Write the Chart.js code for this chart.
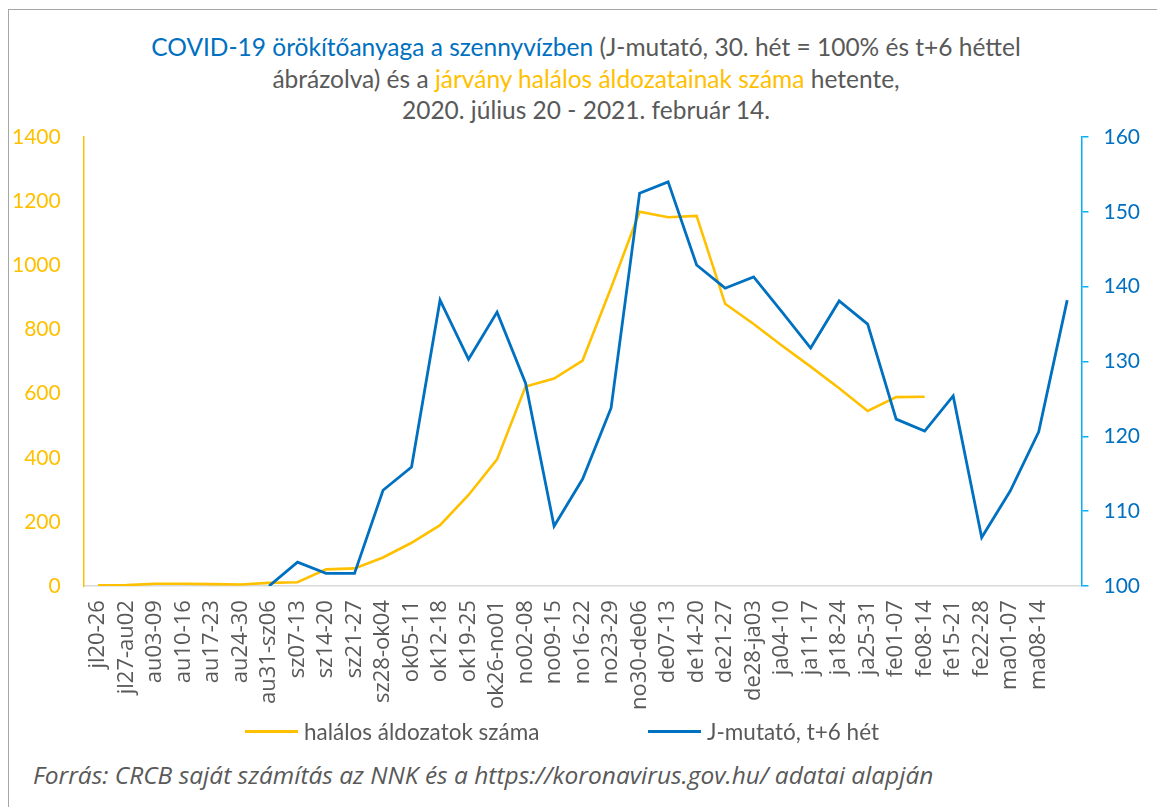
<!DOCTYPE html>
<html>
<head>
<meta charset="utf-8">
<script src="https://cdn.jsdelivr.net/npm/chart.js@4/dist/chart.umd.min.js"></script>
<style>
body{margin:0;background:#fff;width:1157px;height:807px;overflow:hidden;position:relative;font-family:Lato,sans-serif}
#frame{position:absolute;left:8px;top:9px;width:1300px;height:900px;border:1.5px solid #a6a6a6}
#cim{position:absolute;left:0;width:1172px;top:31px;text-align:center;font-size:24.5px;line-height:31.5px;color:#595959}
#wrap{position:absolute;left:-11px;top:0;width:1168px;height:734px}
#jelmagyarazat{position:absolute;top:718px;left:0;width:1157px;font-size:22.5px;color:#595959}
.jel{position:absolute;display:flex;align-items:center}
.vonal{display:inline-block;width:53px;height:3px;margin-right:6px}
#forras{position:absolute;left:33px;top:758px;font-family:"Open Sans",sans-serif;font-style:italic;font-size:24.5px;color:#595959}
</style>
</head>
<body>
<div id="frame"></div>
<div id="cim">
<span style="color:#0070C0">COVID-19 örökítőanyaga a szennyvízben</span> (J-mutató, 30. hét = 100% és t+6 héttel<br>
ábrázolva) és a <span style="color:#FFC000">járvány halálos áldozatainak száma</span> hetente,<br>
2020. július 20 - 2021. február 14.
</div>
<div id="wrap"><canvas id="grafikon"></canvas></div>
<div id="jelmagyarazat"></div>
<div id="forras">Forrás: CRCB saját számítás az NNK és a https://koronavirus.gov.hu/ adatai alapján</div>
<script>
// hetek (az utolsó hét felirat nélkül)
const hetek = ["jl20-26","jl27-au02","au03-09","au10-16","au17-23","au24-30","au31-sz06","sz07-13","sz14-20","sz21-27","sz28-ok04","ok05-11","ok12-18","ok19-25","ok26-no01","no02-08","no09-15","no16-22","no23-29","no30-de06","de07-13","de14-20","de21-27","de28-ja03","ja04-10","ja11-17","ja18-24","ja25-31","fe01-07","fe08-14","fe15-21","fe22-28","ma01-07","ma08-14",""]

const halottak = [2,3,7,7,6,5,10,12,52,55,89,135,190,284,395,622,647,703,930,1167,1150,1154,880,817,749,684,617,546,589,590,null,null,null,null,null]

const jMutato = [null,null,null,null,null,null,100,103.2,101.7,101.7,112.8,115.9,138.2,130.3,136.6,127.1,108.0,114.3,123.8,152.5,154.0,142.9,139.8,141.3,136.6,131.8,138.1,135.0,122.3,120.7,125.4,106.5,112.7,120.6,138.2]

const sarga = "#FFC000"
const kek = "#0070C0"

let chart = new Chart(document.getElementById("grafikon"),{
type:'line',
data:{
labels:hetek,
datasets:[
{
label:'halálos áldozatok száma',
data:halottak,
borderColor:sarga,
backgroundColor:sarga,
borderWidth:2.6,
pointRadius:0,
tension:0,
yAxisID:'y',
order:1
},
{
label:'J-mutató, t+6 hét',
data:jMutato,
borderColor:kek,
backgroundColor:kek,
borderWidth:2.8,
pointRadius:0,
tension:0,
yAxisID:'y2',
order:0
}
]
},
options:{
responsive:true,
maintainAspectRatio:false,
animation:false,
layout:{padding:{left:0,right:2,top:137,bottom:10}},
plugins:{
legend:{display:false},
tooltip:{enabled:false}
},
scales:{
x:{
offset:true,
grid:{display:false,drawTicks:false},
border:{display:true,color:'#d9d9d9',width:1.5},
ticks:{
autoSkip:false,
maxRotation:90,
minRotation:90,
padding:14,
color:'#595959',
font:{family:'"Open Sans"',size:22}
}
},
y:{
position:'left',
min:0,
max:1400,
grid:{display:false,drawTicks:false},
border:{display:true,color:sarga,width:1.5},
ticks:{
stepSize:200,
padding:23,
color:sarga,
font:{family:'Lato',size:21},
callback:(v)=>String(v)
}
},
y2:{
position:'right',
min:100,
max:160,
grid:{display:true,drawOnChartArea:false,drawTicks:true,tickLength:7,color:'#00B0F0',lineWidth:1.5},
border:{display:true,color:'#00B0F0',width:1.5},
ticks:{
stepSize:10,
padding:15,
color:kek,
font:{family:'Lato',size:21}
}
}
}
}
})

// jelmagyarázat
let jm = document.getElementById("jelmagyarazat")
let helyek = [245,648]
chart.data.datasets.forEach((ds,i)=>{
let d = document.createElement("div")
d.className = "jel"
d.style.left = helyek[i]+"px"
d.innerHTML = '<span class="vonal" style="background:'+ds.borderColor+'"></span>'+ds.label
jm.appendChild(d)
})
</script>
</body>
</html>
